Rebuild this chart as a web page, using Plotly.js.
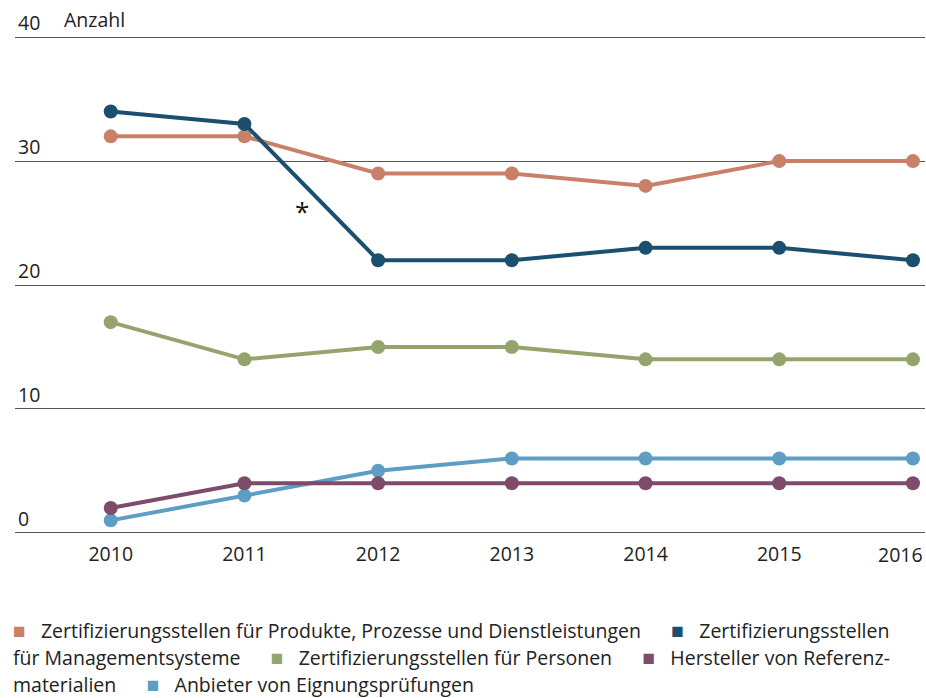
<!DOCTYPE html>
<html><head><meta charset="utf-8">
<script src="https://cdn.plot.ly/plotly-3.0.1.min.js"></script>
<style>html,body{margin:0;padding:0;background:#fff;}#chart{width:926px;height:698px;}</style>
</head><body><div id="chart"></div>
<script>
const years = [2010, 2011, 2012, 2013, 2014, 2015, 2016];
const yearLabels = ["2010", "2011", "2012", "2013", "2014", "2015", ""];
const lastYearLabel = "2016";
const seriesNames = [
  "Zertifizierungsstellen für Produkte, Prozesse und Dienstleistungen",
  "Zertifizierungsstellen für Managementsysteme",
  "Zertifizierungsstellen für Personen",
  "Hersteller von Referenzmaterialien",
  "Anbieter von Eignungsprüfungen"
];
const produkte = [32, 32, 29, 29, 28, 30, 30];
const management = [34, 33, 22, 22, 23, 23, 22];
const personen = [17, 14, 15, 15, 14, 14, 14];
const referenz = [2, 4, 4, 4, 4, 4, 4];
const eignung = [1, 3, 5, 6, 6, 6, 6];
const colors = ["#C98068", "#1B4F6E", "#94A46C", "#7E4B6A", "#5E9DC4"];
const yTicks = [0, 10, 20, 30, 40];

const allSeries = [produkte, management, personen, referenz, eignung];
const order = [4, 3, 2, 0, 1];
const traces = order.map(i => ({
  x: years, y: allSeries[i], name: seriesNames[i], type: 'scatter', mode: 'lines+markers',
  line: {color: colors[i], width: 4}, marker: {color: colors[i], size: 14},
  showlegend: false, hoverinfo: 'x+y+name'
}));

const FS = 19.5;
const sq = c => `<span style="color:${c};font-size:21px">■</span>`;
const sp = '\u00a0\u00a0\u00a0';
const gap = '\u00a0\u00a0\u00a0\u00a0\u00a0\u00a0';
const legendLines = [
  `${sq(colors[0])}${sp}Zertifizierungsstellen für Produkte, Prozesse und Dienstleistungen${gap}${sq(colors[1])}${sp}Zertifizierungsstellen`,
  `für Managementsysteme${gap}${sq(colors[2])}${sp}Zertifizierungsstellen für Personen${gap}${sq(colors[3])}${sp}Hersteller von Referenz-`,
  `materialien${gap}${sq(colors[4])}${sp}Anbieter von Eignungsprüfungen`
];
const legendY = [-0.1925, -0.2465, -0.3005];
const annotations = legendLines.map((t, k) => ({
  text: t, xref: 'paper', yref: 'paper', x: -0.0033, y: legendY[k],
  xanchor: 'left', yanchor: 'middle', showarrow: false, align: 'left', borderpad: 0,
  font: {family: 'Open Sans, sans-serif', size: FS, color: '#222'}
}));
annotations.push({text: 'Anzahl', xref: 'paper', yref: 'paper', x: 0.052, y: 1.0, xanchor: 'left', yanchor: 'bottom', yshift: 1,
  showarrow: false, font: {family: 'Open Sans, sans-serif', size: FS, color: '#222'}});
annotations.push({text: '*', xref: 'x', yref: 'y', x: 2011.43, y: 26.0, showarrow: false,
  font: {family: 'Open Sans, sans-serif', size: 26, color: '#111'}});
annotations.push({text: lastYearLabel, xref: 'paper', yref: 'paper', x: 0.9985, y: -0.0403, xanchor: 'right', yanchor: 'middle',
  showarrow: false, borderpad: 0, font: {family: 'Open Sans, sans-serif', size: FS, color: '#222'}});

const layout = {
  width: 926, height: 698,
  margin: {l: 15, r: 1, t: 35.8, b: 163.8},
  paper_bgcolor: '#fff', plot_bgcolor: '#fff',
  font: {family: 'Open Sans, sans-serif', size: FS, color: '#222'},
  xaxis: {range: [2009.284, 2016.09], tickvals: years, ticktext: yearLabels,
    showgrid: false, zeroline: false, showline: false, ticks: '', ticklabelstandoff: 6,
    tickfont: {size: FS, color: '#222'}},
  yaxis: {range: [-0.1, 40.1], tickvals: yTicks, ticktext: yTicks.map(String), showgrid: true, gridcolor: '#555', gridwidth: 1,
    zeroline: false, showline: false, ticks: '', ticklabelposition: 'inside top', ticklabeloverflow: 'allow',
    tickfont: {size: FS, color: '#222'}},
  annotations: annotations,
  showlegend: false
};
Plotly.newPlot('chart', traces, layout, {displayModeBar: false, staticPlot: true});
</script></body></html>
